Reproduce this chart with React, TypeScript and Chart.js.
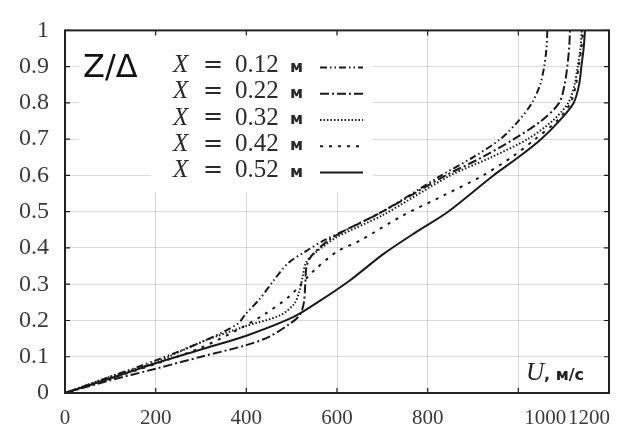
import React, { useEffect, useRef } from "react";
import { Chart, registerables } from "chart.js";

Chart.register(...registerables);

// ---- Data ----
const xTickValues = [0, 200, 400, 600, 800, 1000, 1200];
const xTickLabels = ["0", "200", "400", "600", "800", "1000", "1200"];
const yTickLabels = ["0", "0.1", "0.2", "0.3", "0.4", "0.5", "0.6", "0.7", "0.8", "0.9", "1"];
const seriesNames = ["0.12", "0.22", "0.32", "0.42", "0.52"];
const unitLabel = "м";
const yTitle = "Z/Δ";
const xTitleVar = "U";
const xTitleUnit = ", м/с";

const u012 = [0, 100, 200, 300, 380, 400, 430, 460, 492, 530, 570, 620, 700, 830, 900, 960, 1000, 1030, 1048, 1057, 1062, 1064];
const z012 = [0, 0.045, 0.09, 0.14, 0.19, 0.22, 0.26, 0.31, 0.358, 0.39, 0.42, 0.45, 0.5, 0.6, 0.65, 0.7, 0.75, 0.8, 0.85, 0.9, 0.95, 1.0];

const u022 = [0, 100, 200, 300, 400, 450, 495, 518, 527, 530, 533, 545, 580, 620, 700, 840, 920, 990, 1050, 1090, 1102, 1108, 1112, 1114];
const z022 = [0, 0.035, 0.067, 0.1, 0.132, 0.155, 0.19, 0.215, 0.25, 0.3, 0.35, 0.38, 0.42, 0.45, 0.5, 0.6, 0.65, 0.7, 0.75, 0.8, 0.85, 0.9, 0.95, 1.0];

const u032 = [0, 100, 200, 300, 400, 474, 505, 517, 524, 532, 550, 600, 700, 850, 940, 1020, 1075, 1110, 1124, 1131, 1137, 1140];
const z032 = [0, 0.045, 0.085, 0.14, 0.185, 0.214, 0.245, 0.28, 0.32, 0.36, 0.385, 0.43, 0.49, 0.6, 0.65, 0.7, 0.75, 0.8, 0.85, 0.9, 0.95, 1.0];

const u042 = [0, 100, 200, 300, 380, 440, 496, 547, 600, 650, 746, 834, 922, 985, 1037, 1085, 1115, 1127, 1133, 1139, 1143];
const z042 = [0, 0.04, 0.08, 0.125, 0.174, 0.217, 0.268, 0.335, 0.39, 0.42, 0.49, 0.544, 0.6, 0.65, 0.7, 0.75, 0.8, 0.85, 0.9, 0.95, 1.0];

const u052 = [0, 100, 200, 300, 400, 503, 556, 629, 702, 776, 845, 945, 1000, 1050, 1090, 1122, 1134, 1139, 1144, 1147];
const z052 = [0, 0.04, 0.082, 0.12, 0.158, 0.209, 0.249, 0.311, 0.383, 0.445, 0.5, 0.6, 0.65, 0.7, 0.75, 0.8, 0.85, 0.9, 0.95, 1.0];

const seriesU = [u012, u022, u032, u042, u052];
const seriesZ = [z012, z022, z032, z042, z052];
const seriesDash: number[][] = [
  [7, 3, 1.5, 3, 1.5, 3],
  [9, 3, 2, 3],
  [1.5, 2],
  [3, 6],
  [],
];

const INK = "#1a1a1a";
const TEXT = "#3a3a3a";
const SERIF = '"Liberation Serif", serif';
const SANS = '"DejaVu Sans", "Liberation Sans", sans-serif';

const decorPlugin = {
  id: "decor",
  beforeDatasetsDraw(chart: any) {
    const ctx = chart.ctx;
    const a = chart.chartArea;
    ctx.save();
    ctx.fillStyle = "#ffffff";
    ctx.fillRect(a.left + 14, a.top + 4, 72, 136);
    ctx.fillRect(a.left + 86, a.top + 4, 222, 158);
    ctx.restore();
  },
  afterDraw(chart: any) {
    const ctx = chart.ctx;
    const a = chart.chartArea;
    const xs = chart.scales.x;
    const ys = chart.scales.y;
    ctx.save();

    // inner ticks
    ctx.strokeStyle = INK;
    ctx.lineWidth = 1.2;
    ctx.setLineDash([]);
    xTickValues.forEach((v) => {
      const px = xs.getPixelForValue(v);
      ctx.beginPath();
      ctx.moveTo(px, a.bottom);
      ctx.lineTo(px, a.bottom - 5);
      ctx.moveTo(px, a.top);
      ctx.lineTo(px, a.top + 5);
      ctx.stroke();
    });
    yTickLabels.forEach((_, i) => {
      const py = ys.getPixelForValue(i / 10);
      ctx.beginPath();
      ctx.moveTo(a.left, py);
      ctx.lineTo(a.left + 5, py);
      ctx.moveTo(a.right, py);
      ctx.lineTo(a.right - 5, py);
      ctx.stroke();
    });

    // frame
    ctx.lineWidth = 2;
    ctx.strokeStyle = "#222";
    ctx.strokeRect(a.left, a.top, a.right - a.left, a.bottom - a.top);

    // x tick labels
    ctx.fillStyle = TEXT;
    ctx.font = `21px ${SERIF}`;
    ctx.textBaseline = "middle";
    xTickValues.forEach((v, i) => {
      const px = xs.getPixelForValue(v);
      let x = px;
      ctx.textAlign = "center";
      if (i === xTickValues.length - 2) {
        ctx.textAlign = "left";
        x = px + 6;
      } else if (i === xTickValues.length - 1) {
        ctx.textAlign = "right";
        x = px + 1;
      }
      ctx.fillText(xTickLabels[i], x, a.bottom + 25);
    });

    // y title  Z/Δ
    ctx.fillStyle = "#111";
    ctx.textAlign = "left";
    ctx.font = `32px ${SANS}`;
    ctx.fillText(yTitle, a.left + 18, a.top + 38);

    // legend
    const lx = a.left + 108;
    seriesNames.forEach((name, i) => {
      const cy = a.top + 35 + i * 26.3;
      ctx.fillStyle = "#2a2a2a";
      ctx.textAlign = "left";
      ctx.font = `italic 25px ${SERIF}`;
      ctx.fillText("X", lx, cy);
      ctx.font = `24px "DejaVu Serif", serif`;
      ctx.fillText("=", lx + 30, cy);
      ctx.font = `25px ${SERIF}`;
      ctx.fillText(name, lx + 62, cy);
      ctx.font = `bold 16px ${SANS}`;
      ctx.fillText(unitLabel, lx + 117, cy + 2);
      ctx.strokeStyle = INK;
      ctx.lineWidth = 2;
      ctx.setLineDash(seriesDash[i]);
      ctx.beginPath();
      ctx.moveTo(lx + 147, cy + 2);
      ctx.lineTo(lx + 190, cy + 2);
      ctx.stroke();
      ctx.setLineDash([]);
    });

    // x title  U, м/с
    ctx.fillStyle = "#222";
    ctx.textAlign = "left";
    ctx.font = `italic 25px ${SERIF}`;
    const ux = a.right - 83;
    const uy = a.bottom - 20;
    ctx.fillText(xTitleVar, ux, uy);
    ctx.font = `bold 16px ${SANS}`;
    ctx.fillText(xTitleUnit, ux + 18, uy + 3);

    ctx.restore();
  },
};

export default function App() {
  const canvasRef = useRef<HTMLCanvasElement | null>(null);

  useEffect(() => {
    const canvas = canvasRef.current;
    if (!canvas) return;
    const datasets = seriesNames.map((name, i) => ({
      label: `X = ${name} ${unitLabel}`,
      data: seriesU[i].map((u, k) => ({ x: u, y: seriesZ[i][k] })),
      showLine: true,
      borderColor: INK,
      backgroundColor: INK,
      borderWidth: 2,
      borderDash: seriesDash[i],
      pointRadius: 0,
      tension: 0.3,
      fill: false,
    }));

    const chart = new Chart(canvas, {
      type: "scatter",
      data: { datasets },
      options: {
        animation: false,
        responsive: false,
        layout: { padding: { top: 20, right: 8, left: 0, bottom: 0 } },
        plugins: {
          legend: { display: false },
          tooltip: { enabled: false },
        },
        scales: {
          x: {
            type: "linear",
            min: 0,
            max: 1200,
            ticks: { display: false, stepSize: 200 },
            grid: { color: "rgba(0,0,0,0.14)", drawTicks: false },
            border: { display: false },
            afterFit: (s: any) => {
              s.height = 39;
            },
          },
          y: {
            type: "linear",
            min: 0,
            max: 1,
            ticks: {
              stepSize: 0.1,
              padding: 16,
              color: TEXT,
              font: { family: SERIF, size: 24 },
              callback: (v: any) => yTickLabels[Math.round(Number(v) * 10)],
            },
            grid: { color: "rgba(0,0,0,0.14)", drawTicks: false },
            border: { display: false },
            afterFit: (s: any) => {
              s.width = 65;
            },
          },
        },
      },
      plugins: [decorPlugin],
    } as any);

    return () => chart.destroy();
  }, []);

  return (
    <div style={{ position: "absolute", left: 0, top: 0, width: 617, height: 432, background: "#fff" }}>
      <canvas ref={canvasRef} width={617} height={432} style={{ display: "block" }} />
    </div>
  );
}
